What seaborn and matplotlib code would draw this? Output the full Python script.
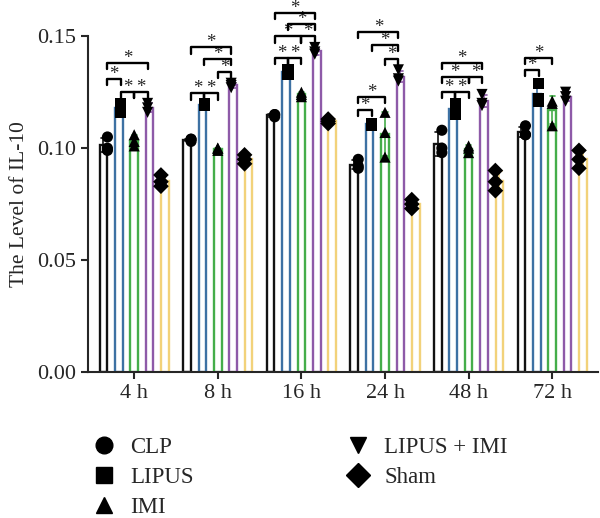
import numpy as np
import pandas as pd
import matplotlib
matplotlib.use("Agg")
import matplotlib.pyplot as plt
from matplotlib.lines import Line2D
import seaborn as sns

times = ["4 h", "8 h", "16 h", "24 h", "48 h", "72 h"]
groups = ["CLP", "LIPUS", "IMI", "LIPUS + IMI", "Sham"]
colors = ["#111111", "#3d71a3", "#45ad4a", "#8e5aa8", "#f2d27a"]
markers = ["o", "s", "^", "v", "D"]

# three replicates per group, one list per time point
clp = [[0.105, 0.100, 0.099], [0.104, 0.103, 0.104], [0.115, 0.114, 0.115],
       [0.095, 0.092, 0.091], [0.108, 0.100, 0.098], [0.110, 0.106, 0.106]]
lipus = [[0.120, 0.118, 0.116], [0.119, 0.120, 0.119], [0.135, 0.133, 0.134],
         [0.111, 0.110, 0.111], [0.120, 0.117, 0.115], [0.129, 0.121, 0.122]]
imi = [[0.106, 0.103, 0.101], [0.100, 0.099, 0.100], [0.125, 0.124, 0.123],
       [0.116, 0.107, 0.096], [0.101, 0.100, 0.098], [0.121, 0.120, 0.110]]
lipus_imi = [[0.120, 0.118, 0.116], [0.128, 0.127, 0.129], [0.145, 0.143, 0.142],
             [0.135, 0.131, 0.130], [0.124, 0.119, 0.120], [0.125, 0.123, 0.121]]
sham = [[0.088, 0.085, 0.083], [0.097, 0.095, 0.093], [0.113, 0.111, 0.112],
        [0.077, 0.075, 0.073], [0.090, 0.085, 0.081], [0.099, 0.095, 0.091]]

# significance brackets: (time index, group a, group b, bracket height)
brackets = [
    (0, 0, 1, 0.131), (0, 1, 2, 0.125), (0, 2, 3, 0.125), (0, 0, 3, 0.138),
    (1, 0, 1, 0.1245), (1, 1, 2, 0.1245), (1, 2, 3, 0.134), (1, 1, 3, 0.140), (1, 0, 3, 0.145),
    (2, 0, 1, 0.1405), (2, 1, 2, 0.1405), (2, 0, 2, 0.150), (2, 2, 3, 0.150),
    (2, 1, 3, 0.1555), (2, 0, 3, 0.1605),
    (3, 0, 1, 0.117), (3, 0, 2, 0.123), (3, 2, 3, 0.140), (3, 1, 3, 0.146), (3, 0, 3, 0.152),
    (4, 0, 1, 0.125), (4, 1, 2, 0.125), (4, 0, 2, 0.132), (4, 2, 3, 0.132), (4, 0, 3, 0.138),
    (5, 0, 1, 0.135), (5, 0, 2, 0.1405),
]

rows = []
for g, vals in zip(groups, [clp, lipus, imi, lipus_imi, sham]):
    for t, reps in zip(times, vals):
        for v in reps:
            rows.append({"time": t, "group": g, "value": v})
df = pd.DataFrame(rows)

sns.set_style("ticks")
plt.rcParams["font.family"] = ["Liberation Serif", "DejaVu Serif"]

fig = plt.figure(figsize=(6, 5.18), dpi=100)
ax = fig.add_axes([0.147, 0.282, 0.85, 0.648])

W = 0.92
sns.barplot(data=df, x="time", y="value", hue="group", order=times, hue_order=groups,
            palette=colors, fill=False, gap=0.5, width=W, linewidth=1.7,
            errorbar="sd", capsize=0.3, err_kws={"linewidth": 1.2}, legend=False, ax=ax)

for g, m in zip(groups, markers):
    sub = df[df["group"] == g]
    sns.stripplot(data=sub, x="time", y="value", hue="group", order=times, hue_order=groups,
                  palette=["black"] * 5, dodge=True, jitter=0, marker=m, size=8,
                  legend=False, ax=ax, zorder=5)

# bar centre positions from the axis
n = len(groups)
step = 0.8 / n
def xpos(t, i):
    return t - 0.4 + step * (i + 0.5)

for t, a, b, h in brackets:
    x1, x2 = xpos(t, a), xpos(t, b)
    ax.plot([x1, x1, x2, x2], [h - 0.0028, h, h, h - 0.0028], color="black", lw=1.7,
            clip_on=False, zorder=6)
    ax.text((x1 + x2) / 2, h + 0.002, "*", ha="center", va="center", fontsize=13.5,
            clip_on=False)

ax.set_ylim(0, 0.15)
ax.set_yticks([0, 0.05, 0.10, 0.15])
ax.set_yticklabels(["0.00", "0.05", "0.10", "0.15"])
ax.set_xlim(-0.55, 5.55)
ax.set_xlabel("")
ax.set_ylabel("The Level of IL-10", fontsize=15.5, labelpad=6)
ax.tick_params(labelsize=16, width=1.5, length=5)
for s in ["top", "right"]:
    ax.spines[s].set_visible(False)
for s in ["left", "bottom"]:
    ax.spines[s].set_linewidth(1.5)

handles = [Line2D([], [], marker=m, color="black", linestyle="", markersize=12) for m in markers]
leg_kw = dict(loc="upper left", ncol=1, frameon=False, fontsize=16.5, handlelength=1.0,
              handletextpad=0.65, labelspacing=0.38, borderpad=0, borderaxespad=0)
fig.legend(handles[:3], groups[:3], bbox_to_anchor=(0.154, 0.156), **leg_kw)
fig.legend(handles[3:], groups[3:], bbox_to_anchor=(0.577, 0.156), **leg_kw)

fig.savefig("out.png", dpi=100)
